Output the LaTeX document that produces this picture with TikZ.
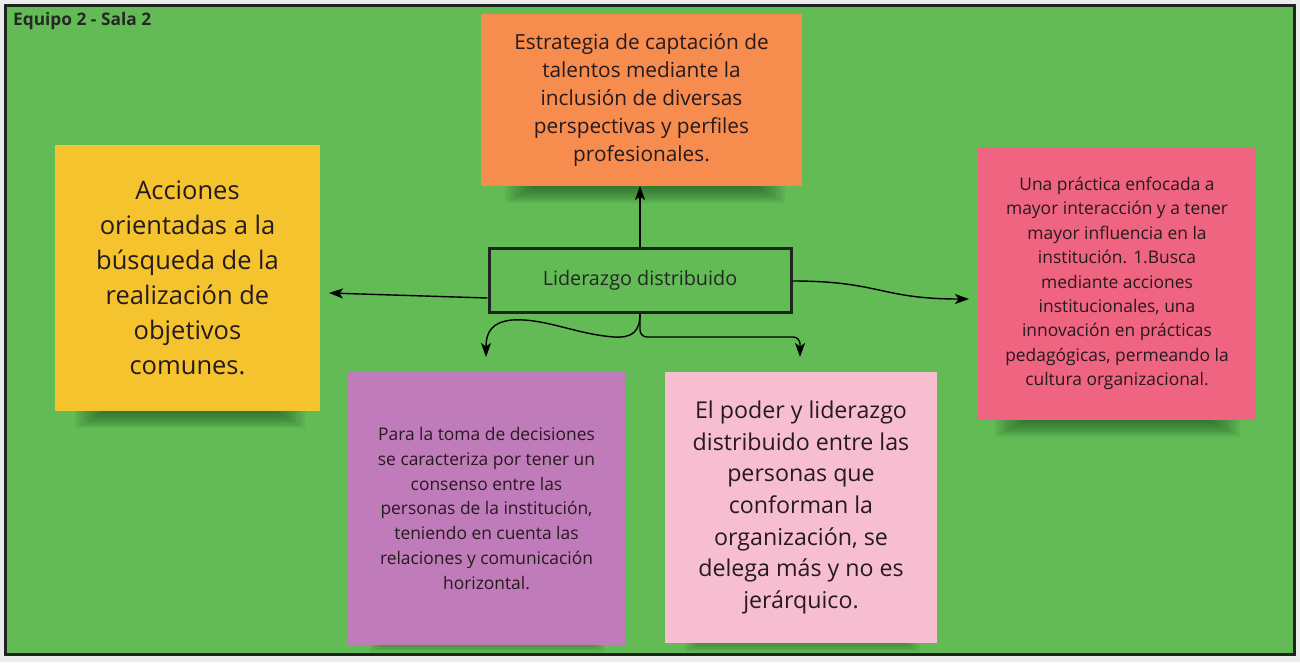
\documentclass[tikz,border=0pt]{standalone}
\usepackage{fontspec}
\setmainfont{Open Sans}
\usetikzlibrary{arrows.meta,calc}
\definecolor{bggray}{RGB}{236,236,236}
\definecolor{board}{RGB}{98,187,85}
\definecolor{frameclr}{RGB}{30,36,30}
\definecolor{orangenote}{RGB}{246,140,78}
\definecolor{yellownote}{RGB}{244,195,45}
\definecolor{rednote}{RGB}{239,100,128}
\definecolor{purplenote}{RGB}{192,124,186}
\definecolor{pinknote}{RGB}{246,190,208}
\definecolor{inktext}{RGB}{38,26,30}
\definecolor{shadowclr}{RGB}{20,70,25}
\newcommand{\noteshade}[4]{%
  \foreach \k in {0,...,9}{\fill[shadowclr, opacity=0.07] ({#1+\k*3},{#2}) rectangle ({#3-\k*3},{#4-\k*1.6});}}
\tikzset{
  note/.style={inner sep=0pt, outer sep=0pt, align=center, text=inktext},
  centerbox/.style={draw=frameclr, line width=3pt, fill=board, inner sep=0pt,
    minimum width=302pt, minimum height=64pt, font=\fontsize{19.8}{24}\selectfont, text=black!85},
  arr/.style={draw=black, line width=1.4pt, -{Stealth[length=14pt,width=10pt,inset=3.5pt]}}
}
\begin{document}
\begin{tikzpicture}[x=1pt,y=-1pt]
\useasboundingbox (0,0) rectangle (1300,662);
\fill[bggray] (0,0) rectangle (1300,662);
\draw[frameclr, line width=3pt, fill=board] (5,5) rectangle (1294,654);
\node[anchor=west, inner sep=0pt, font=\bfseries\fontsize{17.3}{20}\selectfont, text=black!85] (title) at (13,21) {Equipo 2 - Sala 2};

% soft shadows under the sticky notes
\noteshade{505}{170}{785}{203}
\noteshade{75}{395}{305}{428}
\noteshade{995}{404}{1240}{437}
\noteshade{370}{630}{605}{652}
\noteshade{685}{628}{920}{652}

\node[note, fill=orangenote, minimum width=321pt, minimum height=172pt,
  font=\fontsize{20.8}{28}\selectfont] (o) at (641.5,100)
  {Estrategia de captación de\\talentos mediante la\\inclusión de diversas\\perspectivas y perfiles\\profesionales.};
\node[note, fill=yellownote, minimum width=265pt, minimum height=266pt,
  font=\fontsize{25.5}{35}\selectfont] (y) at (187.5,278)
  {Acciones\\orientadas a la\\búsqueda de la\\realización de\\objetivos\\comunes.};
\node[note, fill=rednote, minimum width=278pt, minimum height=273pt,
  font=\fontsize{17.4}{24.4}\selectfont] (r) at (1117,283.5)
  {Una práctica enfocada a\\mayor interacción y a tener\\mayor influencia en la\\institución. 1.Busca\\mediante acciones\\institucionales, una\\innovación en prácticas\\pedagógicas, permeando la\\cultura organizacional.};
\node[note, fill=purplenote, minimum width=277pt, minimum height=273pt,
  font=\fontsize{17.4}{24.8}\selectfont] (p) at (486.5,508.5)
  {Para la toma de decisiones\\se caracteriza por tener un\\consenso entre las\\personas de la institución,\\teniendo en cuenta las\\relaciones y comunicación\\horizontal.};
\node[note, fill=pinknote, minimum width=272pt, minimum height=271pt,
  font=\fontsize{23.2}{31.6}\selectfont] (k) at (801,507.5)
  {El poder y liderazgo\\distribuido entre las\\personas que\\conforman la\\organización, se\\delega más y no es\\jerárquico.};

\node[centerbox] (c) at (640,280) {Liderazgo distribuido};

\coordinate (lt) at (329,293);
\coordinate (rt) at (969,299);
\coordinate (dl) at (486,357);
\coordinate (dr) at (800,357);

\draw[arr] (c.north) -- (c.north |- o.south);
\draw[arr] ([yshift=-18pt]c.west) -- (lt);
\draw[arr] ([yshift=-1pt]c.east) .. controls (880,281) and (880,299) .. (rt);
\draw[arr] (c.south) .. controls (640,332) and (632,338) .. (614,337)
  .. controls (575,334) and (545,318) .. (512,320)
  .. controls (492,322) and (486,332) .. (dl);
\draw[arr, rounded corners=7pt] (c.south) |- (800,337) -- (dr);
\end{tikzpicture}
\end{document}
